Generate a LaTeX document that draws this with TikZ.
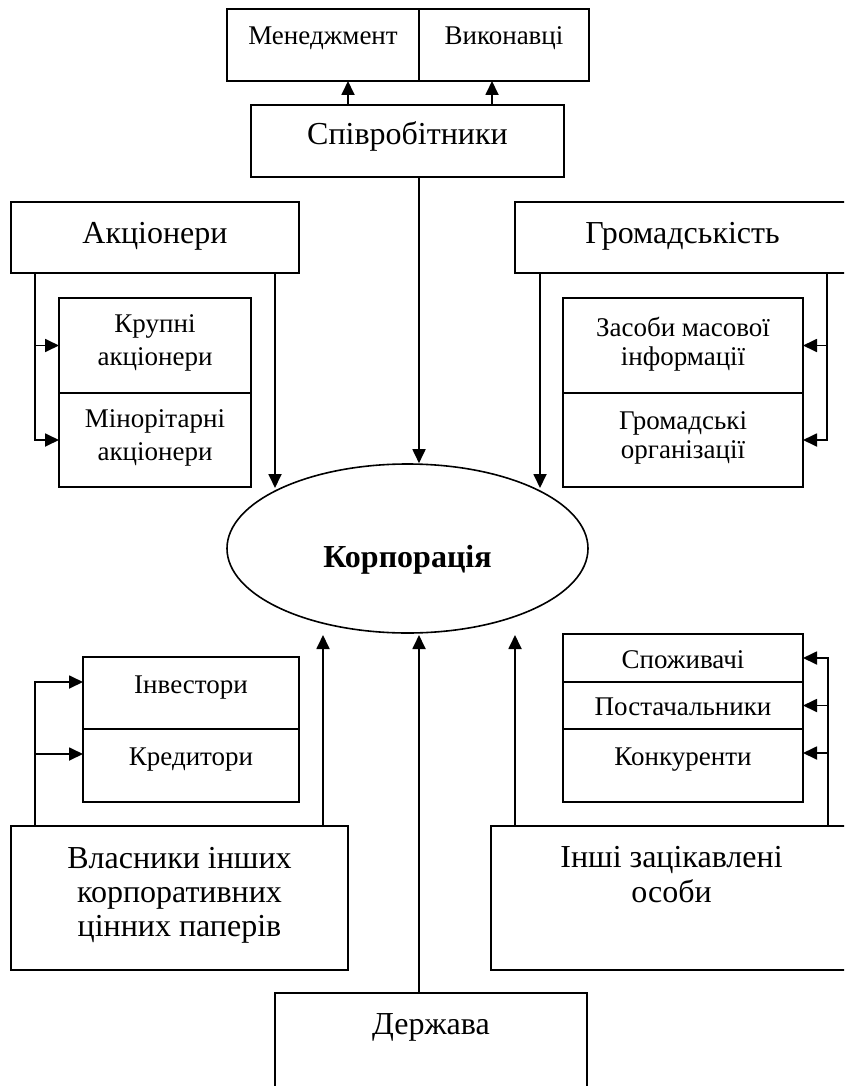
\documentclass[tikz,border=0pt]{standalone}
\usepackage{fontspec}
\setmainfont{Liberation Serif}
\usetikzlibrary{arrows.meta,shapes.geometric}
\newcommand{\bxt}[6]{\parbox[c][#1][t]{#2}{\centering\fontsize{#3}{#4}\selectfont\rule{0pt}{#5}#6\par}}
\begin{document}
\begin{tikzpicture}[x=1pt,y=-1pt,
  box/.style={draw, line width=2pt, inner sep=0pt, outer sep=0pt, anchor=north west},
  arr/.style={line width=1.8pt, -{Triangle[length=14pt,width=13pt]}}]
\clip (0,0) rectangle (844,1086);
\fill[white] (0,0) rectangle (844,1086);
% boxes
\node[box] (men) at (227,9) {\bxt{72pt}{192pt}{27}{31}{36pt}{Менеджмент}};
\node[box] (vyk) at (419,9) {\bxt{72pt}{170pt}{27}{31}{36pt}{Виконавці}};
\node[box] (spiv) at (251,105) {\bxt{72pt}{313pt}{32}{37}{40pt}{Співробітники}};
\node[box] (akc) at (11,202) {\bxt{71pt}{288pt}{32}{37}{41pt}{Акціонери}};
\node[box] (grom) at (515,202) {\bxt{71pt}{335pt}{32}{37}{41pt}{Громадськість}};
\node[box] (krup) at (59,298) {\bxt{95pt}{192pt}{27}{33}{34pt}{Крупні\\акціонери}};
\node[box] (min) at (59,393) {\bxt{94pt}{192pt}{27}{33}{34pt}{Мінорітарні\\акціонери}};
\node[box] (zmi) at (563,298) {\bxt{95pt}{240pt}{27}{29}{38pt}{Засоби масової\\інформації}};
\node[box] (gorg) at (563,393) {\bxt{94pt}{240pt}{27}{29}{36pt}{Громадські\\організації}};
\node[draw, ellipse, line width=1.6pt, minimum width=361pt, minimum height=169pt, inner sep=0pt,
  font=\bfseries\fontsize{32}{38}\selectfont, text height=37pt, text depth=0pt] (korp) at (407.5,548.5) {Корпорація};
\node[box] (inv) at (83,657) {\bxt{72pt}{216pt}{27}{31}{36pt}{Інвестори}};
\node[box] (kred) at (83,729) {\bxt{73pt}{216pt}{27}{31}{36pt}{Кредитори}};
\node[box] (spoz) at (563,634) {\bxt{48pt}{240pt}{27}{31}{34pt}{Споживачі}};
\node[box] (post) at (563,682) {\bxt{47pt}{240pt}{27}{31}{33pt}{Постачальники}};
\node[box] (konk) at (563,729) {\bxt{73pt}{240pt}{27}{31}{36pt}{Конкуренти}};
\node[box] (vlas) at (11,826) {\bxt{144pt}{337pt}{32}{34}{42pt}{Власники інших\\корпоративних\\цінних паперів}};
\node[box] (inshi) at (491,826) {\bxt{144pt}{361pt}{32}{35}{41pt}{Інші зацікавлені\\особи}};
\node[box] (derzh) at (275,993) {\bxt{100pt}{312pt}{32}{37}{41pt}{Держава}};
% connectors top
\coordinate (xa) at (348,0); \coordinate (xb) at (492,0); \coordinate (xc) at (419,0);
\draw[arr] (spiv.north -| xa) -- (men.south -| xa);
\draw[arr] (spiv.north -| xb) -- (vyk.south -| xb);
\draw[arr] (spiv.south -| xc) -- (korp.north -| xc);
% shareholders
\coordinate (xl) at (35,0);
\draw[arr] (akc.south -| xl) |- (min.west);
\draw[arr] (krup.west -| xl) -- (krup.west);
\coordinate (ae) at (275,488);
\draw[arr] (akc.south -| ae) -- (ae);
% public
\coordinate (ge) at (540,488);
\draw[arr] (grom.south -| ge) -- (ge);
\coordinate (xr) at (827,0);
\draw[arr] (grom.south -| xr) |- (gorg.east);
\draw[arr] (zmi.east -| xr) -- (zmi.east);
% bottom left
\coordinate (L1) at (35,682); \coordinate (L2) at (35,754);
\draw[arr] (vlas.north -| L1) -- (L1) -- (inv.west |- L1);
\draw[arr] (L2) -- (kred.west |- L2);
\coordinate (b1) at (323,635); \coordinate (b2) at (419,635); \coordinate (b3) at (515,635);
\draw[arr] (vlas.north -| b1) -- (b1);
\draw[arr] (derzh.north -| b2) -- (b2);
\draw[arr] (inshi.north -| b3) -- (b3);
% bottom right
\coordinate (R1) at (828,0); \coordinate (R3) at (828,753);
\draw[arr] (inshi.north -| R1) |- (spoz.east);
\draw[arr] (post.east -| R1) -- (post.east);
\draw[arr] (R3) -- (konk.east |- R3);
\end{tikzpicture}
\end{document}
